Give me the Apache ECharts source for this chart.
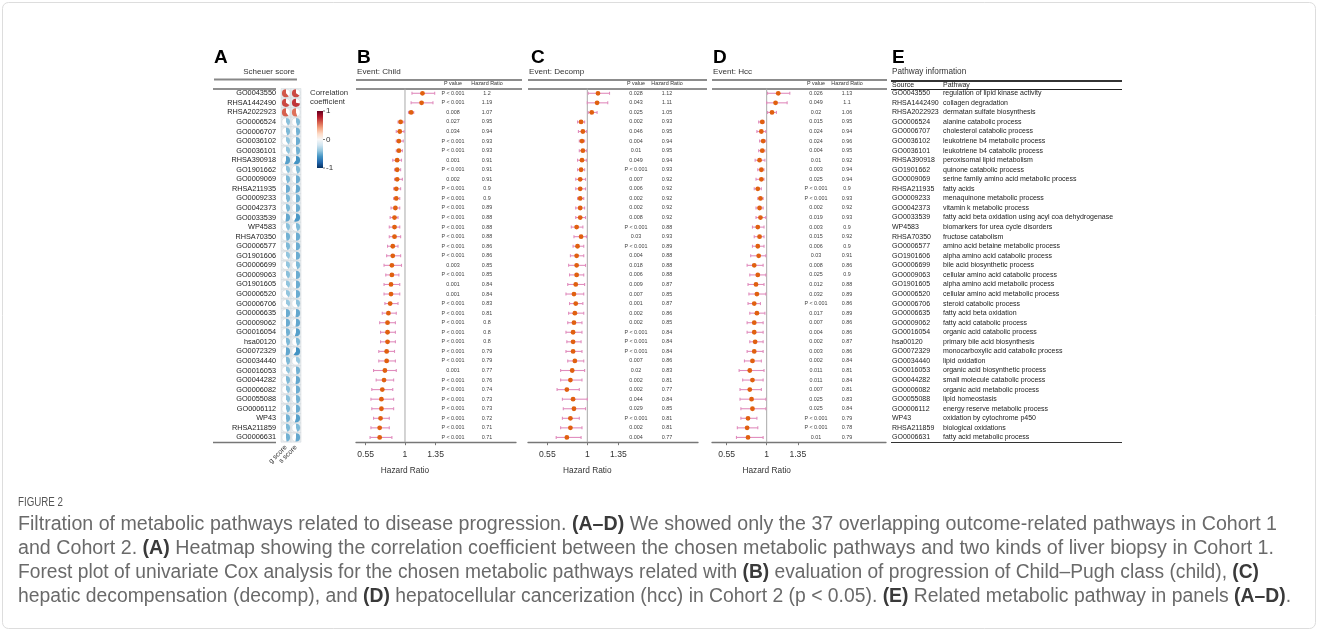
<!DOCTYPE html>
<html><head><meta charset="utf-8">
<script src="https://cdn.jsdelivr.net/npm/echarts@6/dist/echarts.min.js"></script>
<style>html,body{margin:0;padding:0;background:#fff}#chart{width:1319px;height:632px}</style>
</head><body><div id="chart"></div>
<script>
// ---------------- data ----------------
const pathways = ['GO0043550','RHSA1442490','RHSA2022923','GO0006524','GO0006707','GO0036102','GO0036101','RHSA390918','GO1901662','GO0009069','RHSA211935','GO0009233','GO0042373','GO0033539','WP4583','RHSA70350','GO0006577','GO1901606','GO0006699','GO0009063','GO1901605','GO0006520','GO0006706','GO0006635','GO0009062','GO0016054','hsa00120','GO0072329','GO0034440','GO0016053','GO0044282','GO0006082','GO0055088','GO0006112','WP43','RHSA211859','GO0006631'];
const pathwayNames = ['regulation of lipid kinase activity','collagen degradation','dermatan sulfate biosynthesis','alanine catabolic process','cholesterol catabolic process','leukotriene b4 metabolic process','leukotriene b4 catabolic process','peroxisomal lipid metabolism','quinone catabolic process','serine family amino acid metabolic process','fatty acids','menaquinone metabolic process','vitamin k metabolic process','fatty acid beta oxidation using acyl coa dehydrogenase','biomarkers for urea cycle disorders','fructose catabolism','amino acid betaine metabolic process','alpha amino acid catabolic process','bile acid biosynthetic process','cellular amino acid catabolic process','alpha amino acid metabolic process','cellular amino acid metabolic process','steroid catabolic process','fatty acid beta oxidation','fatty acid catabolic process','organic acid catabolic process','primary bile acid biosynthesis','monocarboxylic acid catabolic process','lipid oxidation','organic acid biosynthetic process','small molecule catabolic process','organic acid metabolic process','lipid homeostasis','energy reserve metabolic process','oxidation by cytochrome p450','biological oxidations','fatty acid metabolic process'];
const scoreTypes = ['g score','s score'];
const corrG = [0.62,0.66,0.60,-0.42,-0.45,-0.40,-0.40,-0.55,-0.42,-0.45,-0.50,-0.45,-0.45,-0.52,-0.42,-0.48,-0.45,-0.40,-0.40,-0.42,-0.40,-0.40,-0.38,-0.50,-0.50,-0.48,-0.45,-0.52,-0.45,-0.40,-0.45,-0.42,-0.42,-0.45,-0.48,-0.45,-0.48];
const corrS = [0.66,0.72,0.55,-0.45,-0.48,-0.50,-0.48,-0.60,-0.45,-0.50,-0.52,-0.50,-0.50,-0.58,-0.45,-0.50,-0.50,-0.50,-0.45,-0.50,-0.50,-0.50,-0.42,-0.52,-0.52,-0.55,-0.45,-0.60,-0.38,-0.48,-0.52,-0.50,-0.48,-0.50,-0.55,-0.45,-0.52];

const childHR = [1.2,1.19,1.07,0.95,0.94,0.93,0.93,0.91,0.91,0.91,0.9,0.9,0.89,0.88,0.88,0.88,0.86,0.86,0.85,0.85,0.84,0.84,0.83,0.81,0.8,0.8,0.8,0.79,0.79,0.77,0.76,0.74,0.73,0.73,0.72,0.71,0.71];
const childLo = [1.08,1.07,1.04,0.92,0.90,0.90,0.90,0.86,0.88,0.88,0.87,0.87,0.84,0.83,0.82,0.82,0.80,0.79,0.76,0.78,0.76,0.76,0.77,0.74,0.71,0.72,0.72,0.70,0.70,0.64,0.67,0.62,0.61,0.62,0.64,0.61,0.60];
const childHi = [1.34,1.32,1.10,0.99,0.99,0.98,0.97,0.96,0.95,0.97,0.95,0.94,0.94,0.92,0.94,0.95,0.92,0.95,0.96,0.93,0.94,0.94,0.92,0.90,0.89,0.89,0.89,0.88,0.89,0.90,0.87,0.86,0.87,0.87,0.82,0.82,0.85];
const childP = ['P < 0.001','P < 0.001','0.008','0.027','0.034','P < 0.001','P < 0.001','0.001','P < 0.001','0.002','P < 0.001','P < 0.001','P < 0.001','P < 0.001','P < 0.001','P < 0.001','P < 0.001','P < 0.001','0.003','P < 0.001','0.001','0.001','P < 0.001','P < 0.001','P < 0.001','P < 0.001','P < 0.001','P < 0.001','P < 0.001','0.001','P < 0.001','P < 0.001','P < 0.001','P < 0.001','P < 0.001','P < 0.001','P < 0.001'];

const decompHR = [1.12,1.11,1.05,0.93,0.95,0.94,0.95,0.94,0.93,0.92,0.92,0.92,0.92,0.92,0.88,0.93,0.89,0.88,0.88,0.88,0.87,0.85,0.87,0.86,0.85,0.84,0.84,0.84,0.86,0.83,0.81,0.77,0.84,0.85,0.81,0.81,0.77];
const decompLo = [1.01,1.00,1.01,0.89,0.90,0.91,0.91,0.89,0.89,0.87,0.87,0.89,0.87,0.87,0.82,0.85,0.84,0.81,0.79,0.80,0.78,0.76,0.80,0.79,0.78,0.76,0.77,0.76,0.78,0.70,0.70,0.66,0.72,0.73,0.72,0.70,0.65];
const decompHi = [1.25,1.23,1.11,0.97,0.99,0.97,0.99,0.99,0.97,0.98,0.98,0.96,0.97,0.98,0.95,0.99,0.96,0.96,0.98,0.96,0.97,0.96,0.95,0.96,0.94,0.94,0.93,0.94,0.96,0.97,0.94,0.91,1.00,0.98,0.91,0.94,0.93];
const decompP = ['0.028','0.043','0.025','0.002','0.046','0.004','0.01','0.049','P < 0.001','0.007','0.006','0.002','0.002','0.008','P < 0.001','0.03','P < 0.001','0.004','0.018','0.006','0.009','0.007','0.001','0.002','0.002','P < 0.001','P < 0.001','P < 0.001','0.007','0.02','0.002','0.002','0.044','0.029','P < 0.001','0.002','0.004'];

const hccHR = [1.13,1.1,1.06,0.95,0.94,0.96,0.95,0.92,0.94,0.94,0.9,0.93,0.92,0.93,0.9,0.92,0.9,0.91,0.86,0.9,0.88,0.89,0.86,0.89,0.86,0.86,0.87,0.86,0.84,0.81,0.84,0.81,0.83,0.84,0.79,0.78,0.79];
const hccLo = [1.01,1.00,1.01,0.91,0.89,0.92,0.91,0.87,0.90,0.88,0.86,0.90,0.88,0.88,0.84,0.86,0.84,0.82,0.78,0.81,0.79,0.80,0.79,0.81,0.78,0.78,0.81,0.78,0.75,0.69,0.73,0.70,0.70,0.71,0.71,0.67,0.66];
const hccHi = [1.26,1.23,1.11,0.97,0.99,0.99,0.98,0.98,0.97,0.97,0.94,0.96,0.96,0.99,0.97,0.97,0.97,0.99,0.96,0.99,0.97,0.99,0.93,0.98,0.96,0.96,0.96,0.96,0.94,0.97,0.96,0.94,0.99,0.99,0.89,0.90,0.96];
const hccP = ['0.026','0.049','0.02','0.015','0.024','0.024','0.004','0.01','0.003','0.025','P < 0.001','P < 0.001','0.002','0.019','0.003','0.015','0.006','0.03','0.008','0.025','0.012','0.032','P < 0.001','0.017','0.007','0.004','0.002','0.003','0.002','0.011','0.011','0.007','0.025','0.025','P < 0.001','P < 0.001','0.01'];

const hrTicks = [0.55, 1, 1.35];
const corrTicks = [1, 0, -1];

// ---------------- layout / style ----------------
const F = '"Liberation Sans", Arial, sans-serif';
const CAPF = '"Liberation Sans", Arial, sans-serif';
const RDBU = ['#053061','#2166ac','#4393c3','#92c5de','#d1e5f0','#f7f7f7','#fddbc7','#f4a582','#d6604d','#b2182b','#67001f'];
const TOP = 88.5, H = 353.7;
const panels = [
  {letter:'B', title:'Event: Child',  hr:childHR,  lo:childLo,  hi:childHi,  p:childP,  left:356, width:160, min:0.439, max:2.271, pX:97,  hrX:131, lineEnd:522},
  {letter:'C', title:'Event: Decomp', hr:decompHR, lo:decompLo, hi:decompHi, p:decompP, left:528, width:170, min:0.333, max:2.245, pX:108, hrX:139, lineEnd:707},
  {letter:'D', title:'Event: Hcc',    hr:hccHR,    lo:hccLo,    hi:hccHi,    p:hccP,    left:712, width:174, min:0.385, max:2.342, pX:104, hrX:135, lineEnd:887}
];

const chart = echarts.init(document.getElementById('chart'));

const grids = [{left:281, top:TOP, width:20, height:H}];
const xAxes = [{gridIndex:0, type:'category', data:scoreTypes, axisLine:{show:false}, axisTick:{show:false},
  axisLabel:{rotate:45, fontSize:7, color:'#333', margin:4, interval:0, fontFamily:F}}];
const yAxes = [{gridIndex:0, type:'category', data:pathways, inverse:true, axisLine:{show:false}, axisTick:{show:false},
  axisLabel:{fontSize:7.3, color:'#222', margin:5, interval:0, fontFamily:F}}];

const heatData = [];
pathways.forEach((p, i) => { heatData.push([0, i, corrG[i]]); heatData.push([1, i, corrS[i]]); });

const series = [{
  type:'custom', xAxisIndex:0, yAxisIndex:0, encode:{x:0, y:1}, data:heatData,
  renderItem(params, api) {
    const c = api.coord([api.value(0), api.value(1)]);
    const s = api.size([1, 1]);
    const v = api.value(2);
    const r = Math.min(s[0], s[1]) / 2 - 0.7;
    const a0 = -Math.PI / 2;
    const sweep = 2 * Math.PI * Math.abs(v);
    return {type:'group', children:[
      {type:'rect', shape:{x:c[0]-s[0]/2, y:c[1]-s[1]/2, width:s[0], height:s[1]}, style:{fill:'#e9eef1', stroke:'#d0d6da', lineWidth:0.5}},
      {type:'circle', shape:{cx:c[0], cy:c[1], r:r}, style:{fill:'#ffffff', stroke:'#c5cbd0', lineWidth:0.4}},
      {type:'sector', shape:{cx:c[0], cy:c[1], r0:0, r:r, startAngle:a0, endAngle: v > 0 ? a0 - sweep : a0 + sweep, clockwise: v < 0},
        style:{fill: api.visual('color')}}
    ]};
  }
}];

panels.forEach((pn, k) => {
  const gi = k + 1;
  grids.push({left:pn.left, top:TOP, width:pn.width, height:H});
  xAxes.push({gridIndex:gi, type:'value', min:pn.min, max:pn.max, splitLine:{show:false},
    axisLine:{show:true, lineStyle:{color:'#777', width:1.3}},
    axisTick:{show:true, customValues:hrTicks, length:3, lineStyle:{color:'#777'}},
    axisLabel:{customValues:hrTicks, fontSize:8.6, color:'#333', margin:8, fontFamily:F}});
  yAxes.push({gridIndex:gi, type:'category', data:pathways, inverse:true, show:false});
  series.push({
    type:'custom', xAxisIndex:gi, yAxisIndex:gi, encode:{x:[0,1,2], y:3},
    data: pn.hr.map((h, i) => [pn.lo[i], h, pn.hi[i], i]),
    renderItem(params, api) {
      const row = api.value(3);
      const lo = api.coord([api.value(0), row]);
      const hi = api.coord([api.value(2), row]);
      const c = api.coord([api.value(1), row]);
      const cs = params.coordSys;
      const ws = {stroke:'#e08cbd', lineWidth:1.1};
      const ch = [];
      if (params.dataIndex === 0) {
        const x1 = api.coord([1, 0])[0];
        ch.push({type:'line', shape:{x1:x1, y1:cs.y, x2:x1, y2:cs.y + cs.height}, style:{stroke:'#a8a8a8', lineWidth:1}});
      }
      ch.push(
        {type:'line', shape:{x1:lo[0], y1:lo[1], x2:hi[0], y2:hi[1]}, style:ws},
        {type:'line', shape:{x1:lo[0], y1:lo[1]-1.5, x2:lo[0], y2:lo[1]+1.5}, style:ws},
        {type:'line', shape:{x1:hi[0], y1:hi[1]-1.5, x2:hi[0], y2:hi[1]+1.5}, style:ws},
        {type:'circle', shape:{cx:c[0], cy:c[1], r:2.4}, style:{fill:'#e0600f'}},
        {type:'text', x:cs.x + pn.pX, y:c[1], style:{text:pn.p[params.dataIndex], fontSize:5.4, fill:'#444', align:'center', verticalAlign:'middle', fontFamily:F}},
        {type:'text', x:cs.x + pn.hrX, y:c[1], style:{text:String(pn.hr[params.dataIndex]), fontSize:5.4, fill:'#444', align:'center', verticalAlign:'middle', fontFamily:F}}
      );
      return {type:'group', children:ch};
    }
  });
});

// Panel E table grid
grids.push({left:891, top:TOP, width:231, height:H});
xAxes.push({gridIndex:4, type:'value', min:0, max:1, show:false});
yAxes.push({gridIndex:4, type:'category', data:pathways, inverse:true, show:false});
series.push({
  type:'custom', xAxisIndex:4, yAxisIndex:4, encode:{x:0, y:1},
  data: pathways.map((p, i) => [0, i]),
  renderItem(params, api) {
    const y = api.coord([0, api.value(1)])[1];
    const x0 = params.coordSys.x;
    const i = params.dataIndex;
    return {type:'group', children:[
      {type:'text', x:x0 + 1, y:y, style:{text:pathways[i], fontSize:7, fill:'#222', verticalAlign:'middle', fontFamily:F}},
      {type:'text', x:x0 + 52, y:y, style:{text:pathwayNames[i], fontSize:7, fill:'#222', verticalAlign:'middle', fontFamily:F}}
    ]};
  }
});

chart.setOption({
  animation:false, backgroundColor:'#ffffff', textStyle:{fontFamily:F},
  visualMap:{show:false, type:'continuous', seriesIndex:0, dimension:2, min:-1, max:1, inRange:{color:RDBU}},
  grid:grids, xAxis:xAxes, yAxis:yAxes, series:series
});

// ---------------- decorations ----------------
const G = [];
const txt = (x, y, text, o = {}) => G.push({type:'text', x, y, silent:true, style:Object.assign({text, fontSize:8, fill:'#222', fontFamily:F, verticalAlign:'middle'}, o)});
const ln = (x1, y1, x2, y2, stroke, w) => G.push({type:'line', silent:true, shape:{x1, y1, x2, y2}, style:{stroke, lineWidth:w}});

G.push({type:'rect', silent:true, shape:{x:2.5, y:2.5, width:1313, height:626, r:6}, style:{fill:'none', stroke:'#dddddd', lineWidth:1}});

// Panel A
txt(214, 57.5, 'A', {fontSize:19, fontWeight:'bold', fill:'#000'});
txt(269, 72, 'Scheuer score', {align:'center', fontSize:8, fill:'#333'});
ln(214, 79.5, 297, 79.5, '#888', 2);
ln(213, 89, 276, 89, '#222', 1.2);
ln(213, 442.5, 276, 442.5, '#777', 1.6);
txt(310, 93, 'Correlation', {fontSize:7.8, fill:'#333'});
txt(310, 102, 'coefficient', {fontSize:7.8, fill:'#333'});
const cbTop = 111, cbH = 57;
G.push({type:'rect', silent:true, shape:{x:317, y:cbTop, width:6, height:cbH},
  style:{fill:new echarts.graphic.LinearGradient(0, 0, 0, 1, RDBU.slice().reverse().map((c, i) => ({offset:i/(RDBU.length-1), color:c})))}});
corrTicks.forEach(v => {
  const y = cbTop + (1 - v) / 2 * cbH;
  ln(323, y, 325, y, '#555', 0.8);
  txt(326, y, String(v), {fontSize:8, fill:'#333'});
});

// Forest panels
panels.forEach((pn, k) => {
  txt(pn.letter === 'C' ? 531 : pn.left + 1, 57.5, pn.letter, {fontSize:19, fontWeight:'bold', fill:'#000'});
  txt(pn.left + 1, 72, pn.title, {fontSize:8.1, fill:'#333'});
  ln(pn.left, 80, pn.lineEnd, 80, '#666', 1.3);
  ln(pn.left, 89, pn.lineEnd, 89, '#222', 1);
  txt(pn.left + pn.pX, 84, 'P value', {fontSize:5.4, fill:'#333', align:'center'});
  txt(pn.left + pn.hrX, 84, 'Hazard Ratio', {fontSize:5.4, fill:'#333', align:'center'});
  const x1 = chart.convertToPixel({xAxisIndex:k + 1}, 1);
  txt(x1, 470.5, 'Hazard Ratio', {fontSize:8.3, fill:'#333', align:'center'});
});

// Panel E
txt(892, 57.5, 'E', {fontSize:19, fontWeight:'bold', fill:'#000'});
txt(892, 72, 'Pathway information', {fontSize:8.2, fill:'#333'});
ln(891, 81, 1122, 81, '#333', 1.8);
txt(892, 85, 'Source', {fontSize:7, fill:'#222'});
txt(943, 85, 'Pathway', {fontSize:7, fill:'#222'});
ln(891, 89.5, 1122, 89.5, '#222', 1);
ln(891, 442.5, 1122, 442.5, '#333', 1.2);

// Caption
const ctx = document.createElement('canvas').getContext('2d');
const CAPS = 19.5;
const measure = (t, b, size) => { ctx.font = (b ? 'bold ' : '') + size + 'px ' + CAPF; return ctx.measureText(t).width; };
{
  const t = 'FIGURE 2';
  const w = measure(t, false, 12.5);
  G.push({type:'text', x:18, y:503, scaleX:45 / w, silent:true, style:{text:t, fontSize:12.5, fill:'#555', fontFamily:CAPF, verticalAlign:'middle'}});
}
const captionLines = [
  [['Filtration of metabolic pathways related to disease progression. ',0],['(A–D)',1],[' We showed only the 37 overlapping outcome-related pathways in Cohort 1',0]],
  [['and Cohort 2. ',0],['(A)',1],[' Heatmap showing the correlation coefficient between the chosen metabolic pathways and two kinds of liver biopsy in Cohort 1.',0]],
  [['Forest plot of univariate Cox analysis for the chosen metabolic pathways related with ',0],['(B)',1],[' evaluation of progression of Child–Pugh class (child), ',0],['(C)',1]],
  [['hepatic decompensation (decomp), and ',0],['(D)',1],[' hepatocellular cancerization (hcc) in Cohort 2 (p < 0.05). ',0],['(E)',1],[' Related metabolic pathway in panels ',0],['(A–D)',1],['.',0]]
];
const captionEnds = [1277, 1274, 1259, 1291];
captionLines.forEach((segs, li) => {
  let w = 0, s = '';
  segs.forEach(([t, b]) => { w += measure(t, b, CAPS); s += '{' + (b ? 'b' : 'n') + '|' + t + '}'; });
  G.push({type:'text', x:18, y:525 + li * 24, scaleX:(captionEnds[li] - 18) / w, silent:true,
    style:{text:s, verticalAlign:'middle', rich:{
      n:{fontSize:CAPS, fontFamily:CAPF, fill:'#6a6a6a', color:'#6a6a6a'},
      b:{fontSize:CAPS, fontFamily:CAPF, fontWeight:'bold', fill:'#3a3a3a', color:'#3a3a3a'}
    }}});
});

chart.setOption({graphic:{elements:G}});
</script></body></html>
